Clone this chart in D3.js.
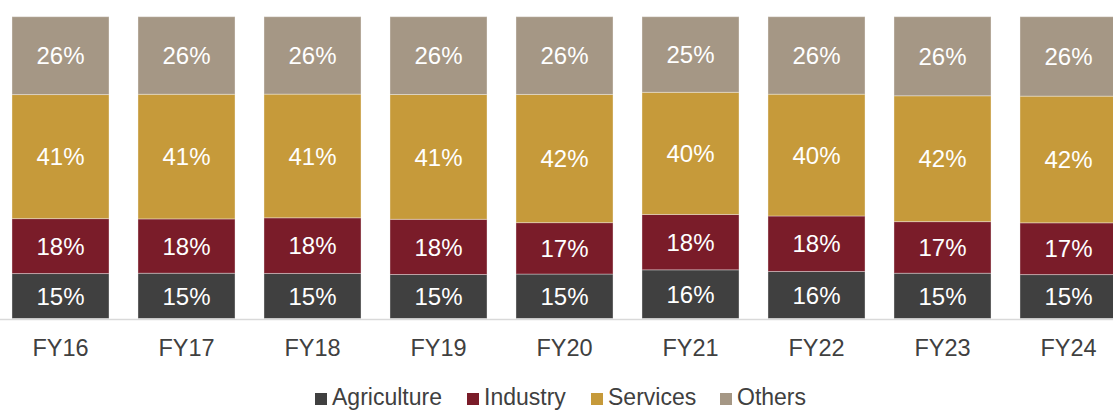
<!DOCTYPE html>
<html>
<head>
<meta charset="utf-8">
<script src="https://cdn.jsdelivr.net/npm/d3@7"></script>
<style>
  body { margin: 0; background: #fff; }
  svg { display: block; font-family: "Liberation Sans", Arial, sans-serif; }
</style>
</head>
<body>
<div id="chart"></div>
<script>
const years = ["FY16", "FY17", "FY18", "FY19", "FY20", "FY21", "FY22", "FY23", "FY24"];
const sectors = ["Agriculture", "Industry", "Services", "Others"];

// shares in %
const agriculture = [14.9, 15.0, 14.9, 14.6, 14.7, 16.1, 15.6, 15.0, 14.6];
const industry    = [18.2, 18.0, 18.4, 18.3, 17.0, 18.3, 18.4, 17.1, 17.2];
const services    = [41.1, 41.3, 40.9, 41.4, 42.4, 40.4, 40.4, 41.7, 42.1];
const others      = [25.8, 25.7, 25.6, 25.8, 25.7, 25.0, 25.7, 26.2, 26.4];

const colors = ["#404040", "#7a1c29", "#c69a3a", "#a59785"];

const W = 1113, H = 410;

const rows = years.map((y, i) => ({
  year: y,
  Agriculture: agriculture[i],
  Industry: industry[i],
  Services: services[i],
  Others: others[i]
}));

const series = d3.stack()
  .keys(sectors)
  .offset(d3.stackOffsetExpand)(rows);

const x = d3.scaleBand()
  .domain(years)
  .range([-2.5, 1131.5])
  .paddingInner(0.23)
  .paddingOuter(0.115);

const y = d3.scaleLinear()
  .domain([0, 1])
  .range([318.5, 16.7]);

const color = d3.scaleOrdinal().domain(sectors).range(colors);

const svg = d3.select("#chart")
  .append("svg")
  .attr("width", W)
  .attr("height", H);

const groups = svg.selectAll("g.series")
  .data(series)
  .join("g")
  .attr("class", "series")
  .attr("fill", d => color(d.key));

groups.selectAll("rect")
  .data(d => d)
  .join("rect")
  .attr("x", d => x(d.data.year))
  .attr("width", x.bandwidth())
  .attr("y", d => y(d[1]))
  .attr("height", d => y(d[0]) - y(d[1]))
  .attr("stroke", "#ffffff")
  .attr("stroke-opacity", 0.35)
  .attr("stroke-width", 1);

groups.selectAll("text")
  .data(d => d.map(v => ({ v, key: d.key })))
  .join("text")
  .attr("x", d => x(d.v.data.year) + x.bandwidth() / 2)
  .attr("y", d => (y(d.v[0]) + y(d.v[1])) / 2)
  .attr("dy", "0.36em")
  .attr("text-anchor", "middle")
  .attr("fill", "#ffffff")
  .style("font-size", "24px")
  .text(d => Math.round(d.v.data[d.key]) + "%");

// x axis
const xAxis = svg.append("g")
  .attr("transform", `translate(0, ${y(0)})`)
  .call(d3.axisBottom(x).tickSize(0).tickPadding(21));
xAxis.select(".domain").attr("d", `M0,1H${W}`).attr("stroke", "#d9d9d9").attr("stroke-width", 1.5);
xAxis.selectAll("text")
  .attr("fill", "#404040")
  .style("font-size", "23.5px")
  .style("font-family", "'Liberation Sans', Arial, sans-serif");

// legend
const legendX = [315, 467, 591, 720];
const legend = svg.append("g")
  .selectAll("g")
  .data(sectors)
  .join("g")
  .attr("transform", (d, i) => `translate(${legendX[i]}, 405)`);

legend.append("rect")
  .attr("x", 0)
  .attr("y", -12)
  .attr("width", 12)
  .attr("height", 12)
  .attr("fill", d => color(d));

legend.append("text")
  .attr("x", 17)
  .attr("y", 0)
  .attr("fill", "#404040")
  .style("font-size", "23px")
  .text(d => d);
</script>
</body>
</html>
